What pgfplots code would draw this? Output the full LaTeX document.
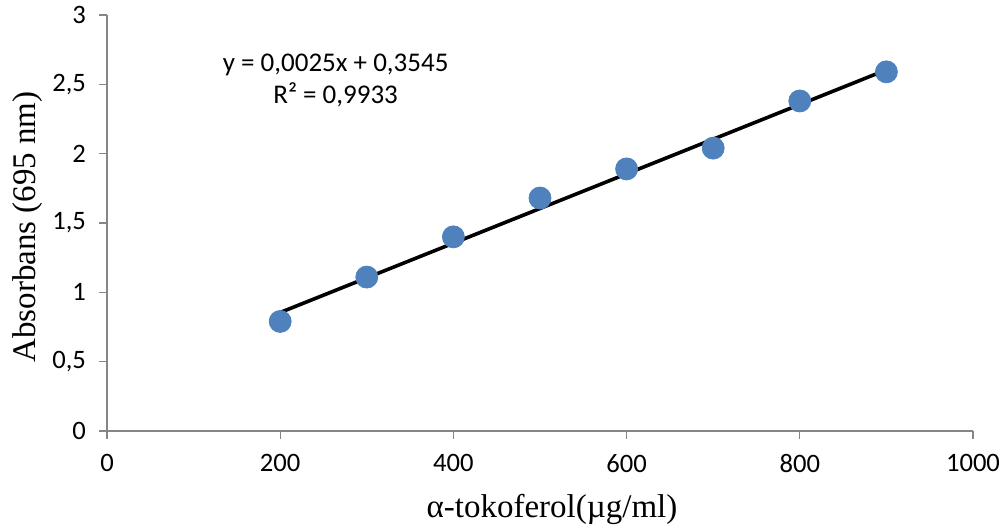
\documentclass[border=0pt]{standalone}
\usepackage{pgfplots}
\pgfplotsset{compat=1.18}
\usepackage{fontspec}
\setmainfont{Liberation Serif}
\newfontfamily\calibri{Carlito}
\definecolor{exblue}{HTML}{4F81BD}
\definecolor{axgray}{HTML}{868686}
\begin{document}
\begin{tikzpicture}
\useasboundingbox (-53.5pt,-49.5pt) rectangle (450.5pt,215.5pt);
\begin{axis}[
  at={(0,0)}, anchor=south west,
  width=433pt, height=208pt, scale only axis,
  xmin=0, xmax=1000, ymin=0, ymax=3,
  axis x line=bottom, axis y line=left,
  axis line style={axgray, line width=0.6pt, -},
  xtick={0,200,...,1000},
  ytick={0,0.5,...,3},
  tick style={axgray, line width=0.6pt},
  tick align=outside,
  major tick length=4pt,
  /pgf/number format/assume math mode=true,
  /pgf/number format/use comma,
  /pgf/number format/1000 sep={},
  ticklabel style={font=\calibri\fontsize{13.3}{15}\selectfont, black},
  xticklabel style={yshift=-4pt},
  yticklabel style={xshift=-3pt},
  xlabel={α-tokoferol(µg/ml)},
  ylabel={Absorbans (695 nm)},
  label style={font=\fontsize{16.5}{20}\selectfont},
  xlabel style={yshift=-4pt, xshift=6pt},
  ylabel style={yshift=-2pt, xshift=-2pt},
  clip=false,
]
\addplot[only marks, mark=*, mark size=5.5pt, mark options={fill=exblue, draw=exblue}]
  coordinates {(200,0.79) (300,1.11) (400,1.40) (500,1.68) (600,1.89) (700,2.04) (800,2.38) (900,2.59)};
\addplot[black, line width=1.8pt] coordinates {(200,0.8545) (900,2.6045)};
\node[font=\calibri\fontsize{13.5}{16}\selectfont, align=center, anchor=north, inner sep=0pt] at (axis cs:264,2.72) {y = 0,0025x + 0,3545\\R² = 0,9933};
\end{axis}
\end{tikzpicture}
\end{document}
